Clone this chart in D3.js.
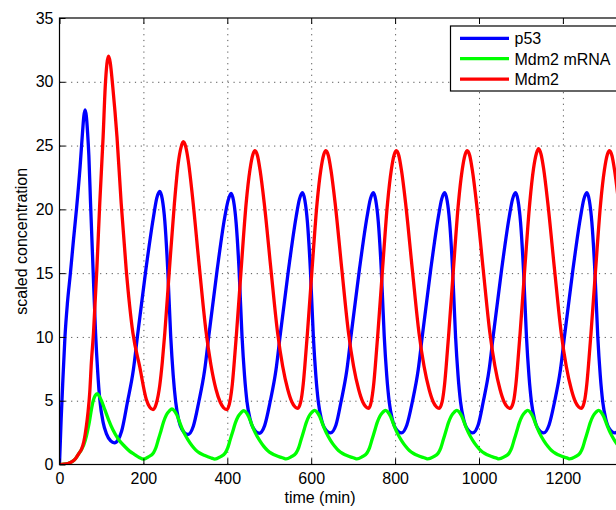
<!DOCTYPE html>
<html>
<head>
<meta charset="utf-8">
<script src="https://cdn.jsdelivr.net/npm/d3@7"></script>
<style>
    body { margin: 0; background: #fff; }
    svg { display: block; font-family: "Liberation Sans", Arial, sans-serif; }
    .axis text { font-size: 16px; fill: #000; }
    .axis line { stroke: #000; }
    .grid line { stroke: #555; stroke-dasharray: 1.2, 4.6; }
    .grid path { display: none; }
</style>
</head>
<body>
<script>
// time (min), value pairs
var p53 = [[0,0],[4,3.6],[8,6.6],[13,10.0],[19,12.7],[26,15.0],[33,17.5],[41,20.2],[49,23.3],[55,26.1],[58,27.3],[61,27.8],[64,27.3],[67,26.0],[70,24.2],[74,20.5],[80,15.3],[86,10.3],[91,7.3],[96,5.1],[104,3.3],[112,2.4],[122,1.85],[131,1.7],[140,1.95],[148,2.6],
    [162,4.9],[176,7.4],[186,10.1],[206,15.3],[224,19.4],[232,20.9],[239,21.4],[245,20.8],[251,19.1],[258,15.3],[265,10.1],[271,7.0],[277,4.9],[284,3.5],[292,2.75],[306,2.35],[319,3.0],
    [332,4.9],[346,7.4],[356,10.1],[376,15.3],[394,19.4],[402,20.7],[409,21.25],[415,20.65],[421,18.95],[428,15.3],[435,10.1],[441,7.0],[447,4.9],[454,3.6],[462,2.85],[476,2.45],[489,3.05],
    [502,4.9],[516,7.4],[526,10.1],[546,15.3],[564,19.4],[572,20.8],[579,21.3],[585,20.7],[591,19.0],[598,15.3],[605,10.1],[611,7.0],[617,4.9],[624,3.6],[632,2.85],[646,2.48],[659,3.1],
    [671,4.9],[685,7.4],[695,10.1],[715,15.3],[733,19.4],[741,20.8],[748,21.3],[754,20.7],[760,19.0],[767,15.3],[774,10.1],[780,7.0],[786,4.9],[793,3.6],[801,2.85],[815,2.48],[828,3.1],
    [841,4.9],[855,7.4],[865,10.1],[885,15.3],[903,19.4],[911,20.8],[918,21.3],[924,20.7],[930,19.0],[937,15.3],[944,10.1],[950,7.0],[956,4.9],[963,3.6],[971,2.85],[985,2.48],[998,3.1],
    [1010,4.9],[1024,7.4],[1034,10.1],[1054,15.3],[1072,19.4],[1080,20.8],[1087,21.3],[1093,20.7],[1099,19.0],[1106,15.3],[1113,10.1],[1119,7.0],[1125,4.9],[1132,3.6],[1140,2.85],[1154,2.48],[1167,3.1],
    [1180,4.9],[1194,7.4],[1204,10.1],[1224,15.3],[1242,19.4],[1250,20.8],[1257,21.3],[1263,20.7],[1269,19.0],[1276,15.3],[1283,10.1],[1289,7.0],[1295,4.9],[1302,3.6],[1310,2.85],[1324,2.48],[1337,3.1],[1350,4.9]];

var mdm2mRNA = [[0,0],[10,0.02],[20,0.08],[30,0.22],[38,0.45],[46,0.85],[53,1.2],[58,1.55],[64,2.2],[68,2.8],[72,3.5],[76,4.3],[80,4.96],[85,5.4],[90,5.55],[95,5.35],[100,5.0],[108,4.3],[117,3.5],[127,2.74],[140,2.0],[155,1.43],[167,1.05],[179,0.78],[190,0.55],[201,0.42],
    [212,0.6],[224,0.92],[230,1.33],[236,2.0],[242,2.65],[248,3.33],[255,3.9],[262,4.2],[268,4.35],[273,4.25],[280,3.87],[288,3.17],[296,2.54],[306,1.95],[316,1.47],[325,1.13],[335,0.88],[345,0.72],[355,0.59],[363,0.5],[370,0.42],
    [383,0.6],[395,0.9],[401,1.3],[407,1.95],[413,2.58],[419,3.24],[426,3.77],[433,4.07],[439,4.22],[444,4.12],[451,3.75],[459,3.08],[467,2.46],[477,1.89],[487,1.42],[496,1.1],[506,0.86],[516,0.7],[526,0.58],[534,0.5],[540,0.44],
    [552,0.6],[564,0.9],[570,1.3],[576,1.96],[582,2.6],[588,3.26],[595,3.8],[602,4.1],[608,4.25],[613,4.15],[620,3.78],[628,3.1],[636,2.48],[646,1.9],[656,1.43],[665,1.1],[675,0.86],[685,0.7],[695,0.58],[703,0.5],[709,0.44],
    [721,0.6],[733,0.9],[739,1.3],[745,1.96],[751,2.6],[757,3.26],[764,3.8],[771,4.1],[777,4.25],[782,4.15],[789,3.78],[797,3.1],[805,2.48],[815,1.9],[825,1.43],[834,1.1],[844,0.86],[854,0.7],[864,0.58],[872,0.5],[878,0.44],
    [891,0.6],[903,0.9],[909,1.3],[915,1.96],[921,2.6],[927,3.26],[934,3.8],[941,4.1],[947,4.25],[952,4.15],[959,3.78],[967,3.1],[975,2.48],[985,1.9],[995,1.43],[1004,1.1],[1014,0.86],[1024,0.7],[1034,0.58],[1042,0.5],[1047,0.44],
    [1060,0.6],[1072,0.9],[1078,1.3],[1084,1.96],[1090,2.6],[1096,3.26],[1103,3.8],[1110,4.1],[1116,4.25],[1121,4.15],[1128,3.78],[1136,3.1],[1144,2.48],[1154,1.9],[1164,1.43],[1173,1.1],[1183,0.86],[1193,0.7],[1203,0.58],[1211,0.5],[1216,0.44],
    [1229,0.6],[1241,0.9],[1247,1.3],[1253,1.96],[1259,2.6],[1265,3.26],[1272,3.8],[1279,4.1],[1285,4.25],[1290,4.15],[1297,3.78],[1305,3.1],[1313,2.48],[1323,1.9],[1333,1.43],[1342,1.1]];

var mdm2 = [[0,0],[10,0.02],[20,0.08],[30,0.22],[38,0.45],[46,0.85],[53,1.25],[58,1.8],[64,3.0],[68,4.1],[72,5.6],[76,8.0],[81,10.3],[89,15.3],[96,20.5],[104,25.7],[109,29.6],[113,31.4],[117,32.0],[121,31.5],[127,29.6],[137,25.7],[147,20.5],[159,15.3],[175,10.3],[191,7.7],[207,5.1],[215,4.5],[223,4.3],
    [231,4.8],[239,6.2],[245,8.0],[251,10.3],[262,15.3],[274,20.5],[283,23.6],[290,24.9],[295,25.3],[301,24.9],[307,23.8],[317,21.0],[333,15.6],[349,10.5],[361,7.8],[373,5.9],[383,4.9],[391,4.45],[399,4.3],
    [406,4.9],[412,6.3],[417,8.2],[422,10.3],[433,15.3],[445,20.5],[454,23.1],[461,24.3],[466,24.6],[472,24.2],[478,23.1],[488,20.5],[504,15.3],[520,10.3],[532,7.7],[544,5.9],[554,4.9],[562,4.5],[568,4.4],
    [575,4.9],[581,6.3],[586,8.2],[591,10.3],[602,15.3],[614,20.5],[623,23.1],[630,24.3],[635,24.6],[641,24.2],[647,23.1],[657,20.5],[673,15.3],[689,10.3],[701,7.7],[713,5.9],[723,4.9],[731,4.5],[737,4.4],
    [743,4.9],[749,6.3],[754,8.2],[759,10.3],[770,15.3],[782,20.5],[791,23.1],[798,24.3],[803,24.6],[809,24.2],[815,23.1],[825,20.5],[841,15.3],[857,10.3],[869,7.7],[881,5.9],[891,4.9],[899,4.5],[905,4.4],
    [912,4.9],[918,6.3],[923,8.2],[928,10.3],[939,15.3],[951,20.5],[960,23.1],[967,24.3],[972,24.6],[978,24.2],[984,23.1],[994,20.5],[1010,15.3],[1026,10.3],[1038,7.7],[1050,5.9],[1060,4.9],[1068,4.5],[1074,4.4],
    [1082,4.9],[1088,6.3],[1093,8.2],[1098,10.3],[1109,15.3],[1121,20.5],[1130,23.2],[1137,24.4],[1142,24.75],[1148,24.3],[1154,23.2],[1164,20.5],[1180,15.3],[1196,10.3],[1208,7.7],[1220,5.9],[1230,4.9],[1238,4.5],[1244,4.4],
    [1251,4.9],[1257,6.3],[1262,8.2],[1267,10.3],[1278,15.3],[1290,20.5],[1299,23.1],[1306,24.3],[1311,24.6],[1317,24.2],[1323,23.1],[1333,20.5],[1349,15.3]];

var xTicks = [0, 200, 400, 600, 800, 1000, 1200];
var yTicks = [0, 5, 10, 15, 20, 25, 30, 35];
var seriesNames = ["p53", "Mdm2 mRNA", "Mdm2"];
var seriesColors = ["#0000ff", "#00ff00", "#ff0000"];

var margin = {top: 18, left: 59.5},
    width = 1400 * 0.4195,
    height = 464.5 - 18;

var svg = d3.select("body").append("svg")
    .attr("width", 616)
    .attr("height", 510);

var g = svg.append("g")
    .attr("transform", "translate(" + margin.left + "," + margin.top + ")");

var x = d3.scaleLinear().domain([0, 1400]).range([0, width]);
var y = d3.scaleLinear().domain([0, 35]).range([height, 0]);

// dotted grid
g.append("g")
    .attr("class", "grid")
    .attr("transform", "translate(0," + height + ")")
    .call(d3.axisBottom(x).tickValues(xTicks.slice(1)).tickSize(-height).tickFormat(""));
g.append("g")
    .attr("class", "grid")
    .call(d3.axisLeft(y).tickValues(yTicks.slice(1, -1)).tickSize(-width).tickFormat(""));

g.append("clipPath").attr("id", "plotclip")
    .append("rect").attr("width", width).attr("height", height);

var line = d3.line()
    .x(function(d) { return x(d[0]); })
    .y(function(d) { return y(d[1]); })
    .curve(d3.curveMonotoneX);

var all = [p53, mdm2mRNA, mdm2];
all.forEach(function(s, i) {
    g.append("path")
        .datum(s)
        .attr("clip-path", "url(#plotclip)")
        .attr("fill", "none")
        .attr("stroke", seriesColors[i])
        .attr("stroke-width", 3.3)
        .attr("stroke-linejoin", "round")
        .attr("d", line);
});

// axes with inward ticks
g.append("g")
    .attr("class", "axis")
    .attr("transform", "translate(0," + height + ")")
    .call(d3.axisBottom(x).tickValues(xTicks).tickFormat(d3.format("d"))
        .tickSizeInner(-6).tickSizeOuter(0).tickPadding(8));
g.append("g")
    .attr("class", "axis")
    .call(d3.axisLeft(y).tickValues(yTicks).tickFormat(d3.format("d"))
        .tickSizeInner(-6).tickSizeOuter(0).tickPadding(6));

// top ticks
g.append("g")
    .attr("class", "axis")
    .call(d3.axisTop(x).tickValues(xTicks).tickSizeInner(-6).tickSizeOuter(0).tickFormat(""));
g.selectAll(".axis path").remove();

g.append("rect")
    .attr("width", width)
    .attr("height", height)
    .attr("fill", "none")
    .attr("stroke", "#000")
    .attr("stroke-width", 1.2);

svg.append("text")
    .attr("x", 320)
    .attr("y", 503)
    .attr("text-anchor", "middle")
    .style("font-size", "16px")
    .text("time (min)");

svg.append("text")
    .attr("transform", "translate(27," + (margin.top + height / 2) + ") rotate(-90)")
    .attr("text-anchor", "middle")
    .style("font-size", "16px")
    .text("scaled concentration");

// legend
var legend = svg.append("g").attr("transform", "translate(450.5,26)");
legend.append("rect")
    .attr("width", 220)
    .attr("height", 65)
    .attr("fill", "#fff")
    .attr("stroke", "#000")
    .attr("stroke-width", 1.2);
seriesNames.forEach(function(name, i) {
    var ly = 12.3 + i * 20.4;
    legend.append("line")
        .attr("x1", 9.5).attr("x2", 58.5)
        .attr("y1", ly).attr("y2", ly)
        .attr("stroke", seriesColors[i])
        .attr("stroke-width", 3.3);
    legend.append("text")
        .attr("x", 64)
        .attr("y", ly + 6)
        .style("font-size", "16px")
        .text(name);
});
</script>
</body>
</html>
